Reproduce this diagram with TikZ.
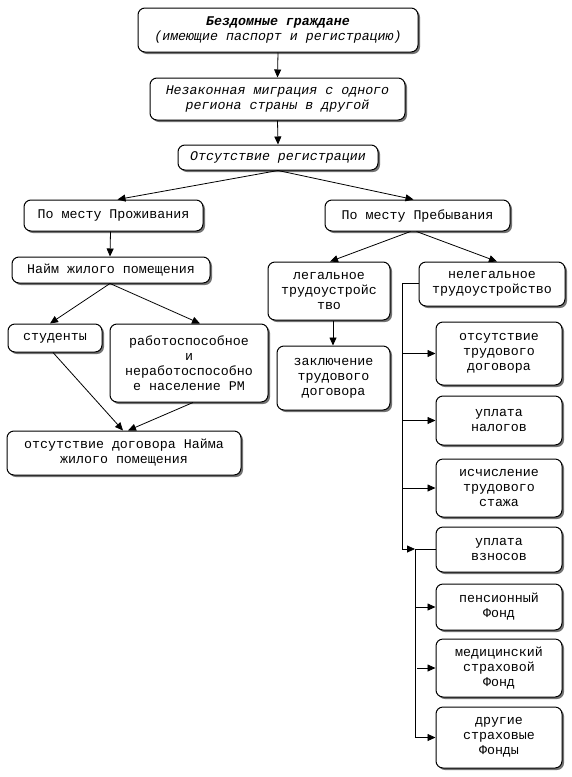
\documentclass[tikz,border=0pt]{standalone}
\usepackage{fontspec}
\setmainfont{Liberation Mono}
\usetikzlibrary{shadows,arrows.meta,calc}
\begin{document}
\begin{tikzpicture}[x=1pt,y=-1pt,
  box/.style={draw, line width=1pt, rounded corners=7pt, fill=white, align=center, inner sep=0pt,
    drop shadow={shadow xshift=2pt, shadow yshift=-2pt, fill=black, opacity=0.55},
    font=\fontsize{13.3}{15}\selectfont},
  arr/.style={-{Triangle[length=8pt,width=7pt]}, line width=0.8pt},
  ln/.style={line width=0.8pt}]
\useasboundingbox (0,0) rectangle (572,777);

\node[box, minimum width=280pt, minimum height=44pt] (b1) at (278,30) {{\bfseries\itshape Бездомные граждане}\\{\itshape (имеющие паспорт и регистрацию)}};
\node[box, minimum width=255pt, minimum height=42pt] (b2) at (277.5,99) {\itshape Незаконная миграция с одного\\\itshape региона страны в другой};
\node[box, minimum width=200pt, minimum height=25pt] (b3) at (278,157.5) {\itshape Отсутствие регистрации};
\node[box, minimum width=179pt, minimum height=31pt] (b4) at (113.5,215.5) {По месту Проживания};
\node[box, minimum width=185pt, minimum height=31pt] (b5) at (417.5,215.5) {По месту Пребывания};
\node[box, minimum width=198pt, minimum height=26pt] (b6) at (111,270) {Найм жилого помещения};
\node[box, minimum width=94pt, minimum height=28pt] (b7) at (55,338) {студенты};
\node[box, minimum width=158pt, minimum height=78pt] (b8) at (189,363) {работоспособное\\и\\неработоспособно\\е население РМ};
\node[box, minimum width=234pt, minimum height=44pt] (b9) at (124,453) {отсутствие договора Найма\\жилого помещения};
\node[box, minimum width=122pt, minimum height=58pt] (b10) at (329,291) {легальное\\трудоустройс\\тво};
\node[box, minimum width=146pt, minimum height=44pt] (b11) at (492,284) {нелегальное\\трудоустройство};
\node[box, minimum width=113pt, minimum height=64pt] (b12) at (333.5,378) {заключение\\трудового\\договора};
\node[box, minimum width=126pt, minimum height=63pt] (b13) at (499,353.5) {отсутствие\\трудового\\договора};
\node[box, minimum width=126pt, minimum height=49pt] (b14) at (499,420.5) {уплата\\налогов};
\node[box, minimum width=126pt, minimum height=58pt] (b15) at (499,488) {исчисление\\трудового\\стажа};
\node[box, minimum width=126pt, minimum height=45pt] (b16) at (499,549.5) {уплата\\взносов};
\node[box, minimum width=126pt, minimum height=46pt] (b17) at (499,607) {пенсионный\\Фонд};
\node[box, minimum width=126pt, minimum height=58pt] (b18) at (499,668) {медицинский\\страховой\\Фонд};
\node[box, minimum width=126pt, minimum height=61pt] (b19) at (499,737.5) {другие\\страховые\\Фонды};

% main chain
\draw[arr] (b1.south) -- (b2.north);
\draw[arr] (b2.south) -- (b3.north);
\draw[arr] (b3.south) -- ($(b4.north)+(4,0)$);
\draw[arr] (b3.south) -- ($(b5.north)+(-4,0)$);
\draw[arr] ($(b4.south)+(-3,0)$) -- ($(b6.north)+(-1,0)$);
\draw[arr] ($(b6.south)+(-1,0)$) -- ($(b7.north)+(-5,0)$);
\draw[arr] ($(b6.south)+(-1,0)$) -- ($(b8.north)+(11,0)$);
\draw[arr] ($(b7.south)+(-2,0)$) -- ($(b9.north)+(-1,0)$);
\draw[arr] ($(b8.south)+(4,0)$) -- ($(b9.north)+(4,0)$);
\draw[arr] ($(b5.south)+(-7,0)$) -- ($(b10.north)+(1,0)$);
\draw[arr] ($(b5.south)+(-1,0)$) -- ($(b11.north)+(5,0)$);
\draw[arr] ($(b10.south)+(4,0)$) -- ($(b12.north)+(-0.5,0)$);

% illegal employment branch
\coordinate (ta) at (402,283);
\coordinate (tb) at (402,549);
\coordinate (tc) at (415,549);
\draw[ln] (b11.west|-ta) -- (ta) -- (tb);
\draw[arr] (ta|-b13.west) -- (b13.west);
\draw[arr] (ta|-b14.west) -- (b14.west);
\draw[arr] (ta|-b15.west) -- (b15.west);
\draw[arr] (tb) -- (tc);
\draw[ln] (tc) -- (b16.west|-tc);
\draw[ln] (tc) -- (tc|-b19.west);
\draw[arr] (tc|-b17.west) -- (b17.west);
\draw[arr] ($(tc|-b18.west)+(2,0)$) -- (b18.west);
\draw[arr] (tc|-b19.west) -- (b19.west);
\end{tikzpicture}
\end{document}
